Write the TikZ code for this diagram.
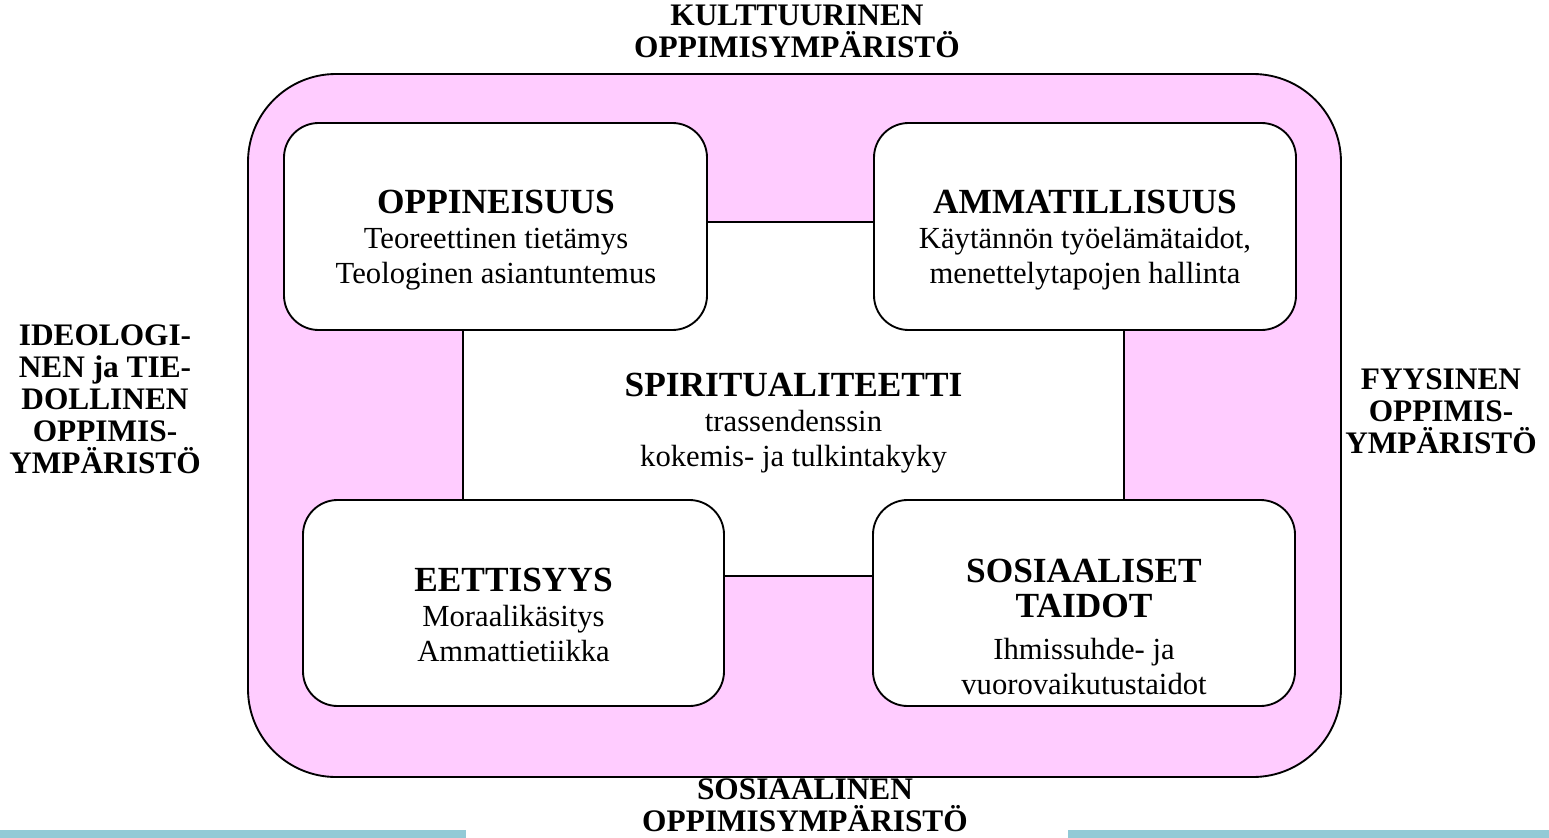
\documentclass[tikz,border=0pt]{standalone}
\usepackage{fontspec}
\setmainfont{Liberation Serif}
\definecolor{pinkfill}{HTML}{FFCCFF}
\definecolor{barblue}{HTML}{92CAD6}

\begin{document}
\begin{tikzpicture}
        [x=0.75pt, y=-0.75pt,
        area/.style={rectangle, draw, line width=1.4pt, fill=white, inner sep=0pt, rounded corners=26pt},
        txt/.style={align=center, anchor=base, font=\fontsize{23}{26.25}\selectfont},
        lbl/.style={align=center, anchor=base, font=\fontsize{23.5}{24}\selectfont\bfseries}]
        \useasboundingbox (0,0) rectangle (1549,838);

        % coloured frame and the centre field
        \node[area, fill=pinkfill, rounded corners=66pt, minimum width=819.75pt, minimum height=527.25pt] (frame) at (794.5,425.5) {};
        \node[area, rounded corners=0pt, minimum width=495.75pt, minimum height=265.5pt] (spirit) at (793.5,399) {};

        \node[area, minimum width=317.25pt, minimum height=155.25pt] (oppin) at (495.5,226.5) {};
        \node[area, minimum width=316.5pt, minimum height=155.25pt] (ammat) at (1085,226.5) {};
        \node[area, minimum width=315.75pt, minimum height=154.5pt] (etiikka) at (513.5,603) {};
        \node[area, minimum width=316.5pt, minimum height=154.5pt] (sosiaal) at (1084,603) {};

        % texts in the boxes (base = last line)
        \node[txt] (oppinT) at (496,283) {{\fontsize{26.5}{26.25}\selectfont\bfseries OPPINEISUUS}\\Teoreettinen tietämys\\Teologinen asiantuntemus};
        \node[txt] (ammatT) at (1085,283) {{\fontsize{26.5}{26.25}\selectfont\bfseries AMMATILLISUUS}\\Käytännön työelämätaidot,\\menettelytapojen hallinta};
        \node[txt] (spiritT) at (793.5,466) {{\fontsize{26.5}{26.25}\selectfont\bfseries SPIRITUALITEETTI}\\trassendenssin\\kokemis- ja tulkintakyky};
        \node[txt] (etiikkaT) at (513.5,661) {{\fontsize{26.5}{26.25}\selectfont\bfseries EETTISYYS}\\Moraalikäsitys\\Ammattietiikka};
        \node[txt] (sosiaalT) at (1084,694) {{\fontsize{26.5}{26.25}\selectfont\bfseries SOSIAALISET}\\{\fontsize{26.5}{26.25}\selectfont\bfseries TAIDOT}\\[5pt]Ihmissuhde- ja\\vuorovaikutustaidot};

        % environments round the frame
        \node[lbl] (kulttL) at (797,58) {KULTTUURINEN\\OPPIMISYMPÄRISTÖ};
        \node[lbl] (ideoL) at (105,473) {IDEOLOGI-\\NEN ja TIE-\\DOLLINEN\\OPPIMIS-\\YMPÄRISTÖ};
        \node[lbl] (fyysL) at (1441,453) {FYYSINEN\\OPPIMIS-\\YMPÄRISTÖ};
        \node[lbl] (sosL) at (805,831) {SOSIAALINEN\\OPPIMISYMPÄRISTÖ};

        \fill[barblue] (0,830) rectangle (466,838);
        \fill[barblue] (1068,830) rectangle (1549,838);

    \end{tikzpicture}
\end{document}
